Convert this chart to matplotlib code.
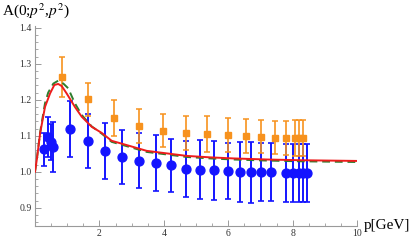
import matplotlib
matplotlib.use("Agg")
import matplotlib.pyplot as plt
from matplotlib.ticker import MultipleLocator, FixedLocator

# Blue circles (data set 1)
blue_x = [0.29, 0.39, 0.49, 0.55, 1.09, 1.64, 2.18, 2.71, 3.23, 3.75, 4.21, 4.69, 5.12,
          5.57, 5.98, 6.37, 6.71, 7.03, 7.32, 7.80, 8.02, 8.19, 8.31, 8.44]
blue_y = [1.062, 1.097, 1.083, 1.068, 1.119, 1.086, 1.058, 1.042, 1.031, 1.024, 1.018, 1.007, 1.006,
          1.004, 1.002, 1.000, 0.999, 1.000, 0.999, 0.996, 0.996, 0.996, 0.996, 0.996]
blue_err = [0.045, 0.055, 0.05, 0.07, 0.078, 0.075, 0.078, 0.075, 0.077, 0.078, 0.074, 0.078, 0.083,
            0.082, 0.079, 0.083, 0.085, 0.080, 0.080, 0.080, 0.081, 0.081, 0.081, 0.081]

# Orange squares (data set 2)
orange_x = [0.83, 1.64, 2.45, 3.23, 3.96, 4.69, 5.35, 5.98, 6.54, 7.02, 7.46, 7.80, 8.07, 8.19, 8.31]
orange_y = [1.264, 1.201, 1.150, 1.127, 1.114, 1.108, 1.105, 1.102, 1.099, 1.097, 1.095, 1.094, 1.094, 1.094, 1.094]
orange_err = [0.056, 0.046, 0.050, 0.048, 0.046, 0.047, 0.049, 0.047, 0.047, 0.046, 0.047, 0.047, 0.049, 0.049, 0.049]

# Red solid curve
red_x = [0.0, 0.05, 0.16, 0.31, 0.47, 0.60, 0.72, 0.83, 0.98, 1.24, 1.45, 1.76, 2.07, 2.38, 2.85,
         3.47, 4.09, 4.71, 5.43, 6.15, 7.2, 8.23, 9.1, 10.0]
red_y = [1.0, 1.03, 1.107, 1.18, 1.218, 1.241, 1.244, 1.238, 1.218, 1.18, 1.153, 1.125, 1.108, 1.086, 1.074,
         1.058, 1.051, 1.044, 1.040, 1.037, 1.034, 1.032, 1.031, 1.030]

# Green dashed curve
green_x = [0.0, 0.05, 0.16, 0.31, 0.41, 0.57, 0.72, 0.88, 1.03, 1.24, 1.45, 1.76, 2.07, 2.38, 2.85,
           3.47, 4.09, 4.71, 5.43, 6.15, 7.2, 8.23, 9.1, 10.0]
green_y = [1.0, 1.03, 1.11, 1.19, 1.22, 1.245, 1.253, 1.245, 1.232, 1.19, 1.158, 1.126, 1.106, 1.083, 1.071,
           1.055, 1.048, 1.041, 1.037, 1.034, 1.031, 1.029, 1.028, 1.027]

fig = plt.figure(figsize=(4.15, 2.4), dpi=100)
ax = fig.add_axes([35/415, 14.3/240, 322/415, 199.7/240])

ax.errorbar(blue_x, blue_y, yerr=blue_err, fmt='o', color='#1414ff', ms=6.4, elinewidth=1.4,
            capsize=2.2, capthick=1.2, zorder=3)
ax.errorbar(orange_x, orange_y, yerr=orange_err, fmt='s', color='#f7921e', ms=4.8, elinewidth=1.2,
            capsize=2.2, capthick=1.1, zorder=3)
ax.plot(green_x, green_y, color='#2e7d2e', lw=1.4, ls=(0, (4, 2.5)), zorder=4)
ax.plot(red_x, red_y, color='#ee1c1c', lw=1.4, zorder=5)

ax.set_xlim(0, 10)
ax.set_ylim(0.85, 1.405)

for s in ['top', 'right']:
    ax.spines[s].set_visible(False)
for s in ['left', 'bottom']:
    ax.spines[s].set_color('#9a9a9a')
    ax.spines[s].set_linewidth(0.8)

ax.xaxis.set_major_locator(FixedLocator([2, 4, 6, 8, 10]))
ax.xaxis.set_minor_locator(MultipleLocator(0.5))
ax.yaxis.set_major_locator(FixedLocator([0.9, 1.0, 1.1, 1.2, 1.3, 1.4]))
ax.yaxis.set_minor_locator(MultipleLocator(0.02))
ax.set_xticklabels(['2', '4', '6', '8', '10'])
ax.set_yticklabels(['0.9', '1.0', '1.1', '1.2', '1.3', '1.4'])
ax.tick_params(which='major', direction='in', length=4, width=0.7, color='#9a9a9a', labelsize=7,
               labelcolor='#333333', pad=2.5)
ax.tick_params(which='minor', direction='in', length=2.2, width=0.6, color='#9a9a9a')
for lab in ax.get_xticklabels() + ax.get_yticklabels():
    lab.set_family('Liberation Serif')

fig.text(0.005, 0.995, r'A(0;$p^2$,$p^2$)', ha='left', va='top', fontsize=11,
         family='Liberation Serif', math_fontfamily='stix')
fig.text(364/415, 14.3/240, 'p[GeV]', ha='left', va='center', fontsize=11,
         family='Liberation Serif')

fig.savefig('out.png', dpi=100)
